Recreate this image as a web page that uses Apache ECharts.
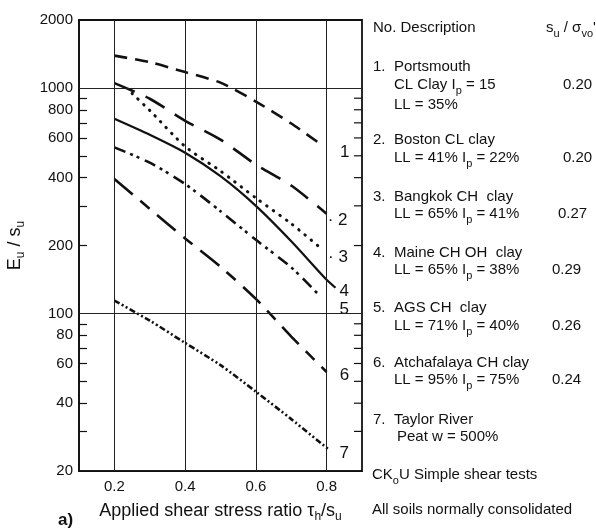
<!DOCTYPE html>
<html>
<head>
<meta charset="utf-8">
<script src="https://cdn.jsdelivr.net/npm/echarts@6/dist/echarts.min.js"></script>
<style>
  html, body { margin: 0; padding: 0; background: #fff; }
  #chart { width: 596px; height: 528px; }
</style>
</head>
<body>
<div id="chart"></div>
<script>
// Stiffness ratio Eu/su versus applied shear stress ratio, CKoU simple shear tests
const curveIds = ['1', '2', '3', '4', '5', '6', '7'];

const x1 = [0.2, 0.3, 0.4, 0.5, 0.6, 0.7, 0.79];
const y1 = [1390, 1300, 1175, 1055, 870, 695, 553];

const x2 = [0.2, 0.3, 0.4, 0.5, 0.6, 0.7, 0.8];
const y2 = [1050, 895, 715, 590, 457, 369, 277];

const x3 = [0.25, 0.3, 0.4, 0.5, 0.6, 0.7, 0.79];
const y3 = [945, 795, 550, 428, 325, 250, 191];

const x4 = [0.2, 0.3, 0.4, 0.5, 0.6, 0.7, 0.8, 0.825];
const y4 = [730, 620, 516, 406, 300, 209, 141, 130];

const x5 = [0.2, 0.3, 0.4, 0.5, 0.6, 0.7, 0.78];
const y5 = [545, 466, 375, 284, 212, 160, 120];

const x6 = [0.2, 0.3, 0.4, 0.5, 0.6, 0.7, 0.8];
const y6 = [395, 291, 215, 161, 116, 79, 55];

const x7 = [0.2, 0.3, 0.4, 0.5, 0.6, 0.7, 0.805];
const y7 = [114, 93, 74, 59, 45, 34, 25];

// axis ticks and reference lines
const xMin = 0.1;
const xMax = 0.9;
const xTickLabels = [0.2, 0.4, 0.6, 0.8];
const yTickLabels = [20, 40, 60, 80, 100, 200, 400, 600, 800, 1000, 2000];
const yMinorTicks = [30, 40, 50, 60, 70, 80, 90, 200, 300, 400, 500, 600, 700, 800, 900];
const xGridLines = [0.2, 0.4, 0.6, 0.8];
const yGridLines = [100, 1000];

// soil descriptions
const soilNames = ['Portsmouth', 'Boston CL clay', 'Bangkok CH  clay', 'Maine CH OH  clay',
  'AGS CH  clay', 'Atchafalaya CH clay', 'Taylor River'];
const soilProps = ['CL Clay I{s|p} = 15', 'LL = 41% I{s|p} = 22%', 'LL = 65% I{s|p} = 41%',
  'LL = 65% I{s|p} = 38%', 'LL = 71% I{s|p} = 40%', 'LL = 95% I{s|p} = 75%', 'Peat w = 500%'];
const strengthRatios = ['0.20', '0.20', '0.27', '0.29', '0.26', '0.24', ''];

const FONT = "'Liberation Sans', Arial, Helvetica, sans-serif";
const INK = '#111';
const TICK_LEN = 8;

function pairs(xs, ys) { return xs.map((x, i) => [x, ys[i]]); }

const lineDefs = [
  { xs: x1, ys: y1, width: 2.6, dash: [13, 8], cap: 'butt', off: [17, 6], text: '1' },
  { xs: x2, ys: y2, width: 2.6, dash: [22, 12], cap: 'butt', off: [1, 7], text: '· 2' },
  { xs: x3, ys: y3, width: 3, dash: [0.5, 7.5], cap: 'round', off: [5, 7], text: '· 3' },
  { xs: x4, ys: y4, width: 2.2, dash: 'solid', cap: 'butt', off: [4, 4], text: '4' },
  { xs: x5, ys: y5, width: 2.6, dash: [12, 5, 3, 4, 3, 6], cap: 'butt', off: [20, 14], text: '5' },
  { xs: x6, ys: y6, width: 2.6, dash: [24, 10, 12, 10], cap: 'butt', off: [13, 3], text: '6' },
  { xs: x7, ys: y7, width: 2.6, dash: [6, 2.5, 2, 2.5, 2, 2.5], cap: 'butt', off: [11, 4], text: '7' }
];

const series = lineDefs.map((d, i) => ({
  type: 'line',
  name: curveIds[i],
  data: pairs(d.xs, d.ys),
  smooth: 0.25,
  showSymbol: false,
  symbol: 'none',
  lineStyle: { color: INK, width: d.width, type: d.dash, cap: d.cap },
  endLabel: {
    show: true,
    formatter: d.text,
    distance: 0,
    offset: d.off,
    color: INK,
    fontFamily: FONT,
    fontSize: 17
  },
  z: 3
}));

// frame grid lines at the labelled stations
series[3].markLine = {
  silent: true,
  symbol: 'none',
  animation: false,
  label: { show: false },
  lineStyle: { color: '#222', width: 1, type: 'solid' },
  data: xGridLines.map(v => ({ xAxis: v })).concat(yGridLines.map(v => ({ yAxis: v })))
};

const subRich = {
  n: { fontFamily: FONT, fontSize: 15, color: INK, lineHeight: 22 },
  s: { fontFamily: FONT, fontSize: 11, color: INK, lineHeight: 11, verticalAlign: 'bottom' }
};

function txt(x, y, text, extra) {
  return Object.assign({
    type: 'text', x: x, y: y,
    style: {
      text: text, fill: INK, font: '15px ' + FONT,
      verticalAlign: 'middle', align: 'left', rich: subRich
    }
  }, extra || {});
}

const rowY = [67, 140, 197, 253, 308, 363, 420];
const propY = [85, 158, 214, 270, 326, 380, 437];
const ratioX = [563, 563, 558, 552, 552, 552, 552];

const graphics = [];
graphics.push(txt(373, 28, 'No. Description'));
graphics.push(txt(546, 28, '{n|s}{s|u}{n| / σ}{s|vo}{n|\'}'));
soilNames.forEach((nm, i) => {
  graphics.push(txt(373, rowY[i], (i + 1) + '.'));
  graphics.push(txt(394, rowY[i], nm));
  graphics.push(txt(i === 6 ? 397 : 394, propY[i], '{n|' + soilProps[i].replace('{s|p}', '}{s|p}{n|') + '}'));
  if (strengthRatios[i]) graphics.push(txt(ratioX[i], propY[i], strengthRatios[i]));
});
graphics.push(txt(394, 105, 'LL = 35%'));
graphics.push(txt(372, 475, '{n|CK}{s|o}{n|U Simple shear tests}'));
graphics.push(txt(372, 510, 'All soils normally consolidated'));
graphics.push({
  type: 'text', x: 58, y: 520,
  style: { text: 'a)', fill: INK, font: 'bold 17px ' + FONT, verticalAlign: 'middle' }
});

const option = {
  animation: false,
  backgroundColor: '#fff',
  grid: { left: 79, right: 234, top: 20, bottom: 53, show: true, borderColor: INK, borderWidth: 1.8,
    backgroundColor: 'transparent', containLabel: false },
  xAxis: {
    type: 'value',
    min: xMin,
    max: xMax,
    axisLine: { show: true, lineStyle: { color: INK, width: 1.6 } },
    axisTick: { show: false },
    splitLine: { show: false },
    axisLabel: {
      customValues: xTickLabels,
      margin: 8,
      color: INK,
      fontFamily: FONT,
      fontSize: 15,
      formatter: v => v.toFixed(1)
    },
    name: 'Applied shear stress ratio τ{s|h}/s{s|u}',
    nameLocation: 'middle',
    nameGap: 24,
    nameTextStyle: {
      color: INK, fontFamily: FONT, fontSize: 18, lineHeight: 24,
      rich: { s: { fontFamily: FONT, fontSize: 12, color: INK, lineHeight: 12, verticalAlign: 'bottom' } }
    }
  },
  yAxis: {
    type: 'log',
    logBase: 10,
    min: 20,
    max: 2000,
    position: 'left',
    axisLine: { show: true, lineStyle: { color: INK, width: 1.6 } },
    axisTick: { show: true, inside: true, length: TICK_LEN, customValues: yMinorTicks,
      lineStyle: { color: INK, width: 1.2 } },
    splitLine: { show: false },
    minorTick: { show: false },
    minorSplitLine: { show: false },
    axisLabel: {
      customValues: yTickLabels,
      margin: 6,
      color: INK,
      fontFamily: FONT,
      fontSize: 15,
      formatter: v => String(Math.round(v))
    },
    name: '{n|E}{s|u}{n| / s}{s|u}',
    nameLocation: 'middle',
    nameGap: 52,
    nameTextStyle: {
      rich: {
        n: { fontFamily: FONT, fontSize: 18, color: INK, lineHeight: 24 },
        s: { fontFamily: FONT, fontSize: 12, color: INK, lineHeight: 12, verticalAlign: 'bottom' }
      }
    }
  },
  graphic: graphics,
  series: series
};

const chart = echarts.init(document.getElementById('chart'), null, { renderer: 'canvas' });
chart.setOption(option);

// inward ticks on the right frame, placed through the chart's own scales
const rightTicks = yMinorTicks.map(v => {
  const p = chart.convertToPixel({ gridIndex: 0 }, [xMax, v]);
  return {
    type: 'line',
    silent: true,
    shape: { x1: p[0] - TICK_LEN, y1: p[1], x2: p[0], y2: p[1] },
    style: { stroke: INK, lineWidth: 1.2 }
  };
});
chart.setOption({ graphic: graphics.concat(rightTicks) });
</script>
</body>
</html>
